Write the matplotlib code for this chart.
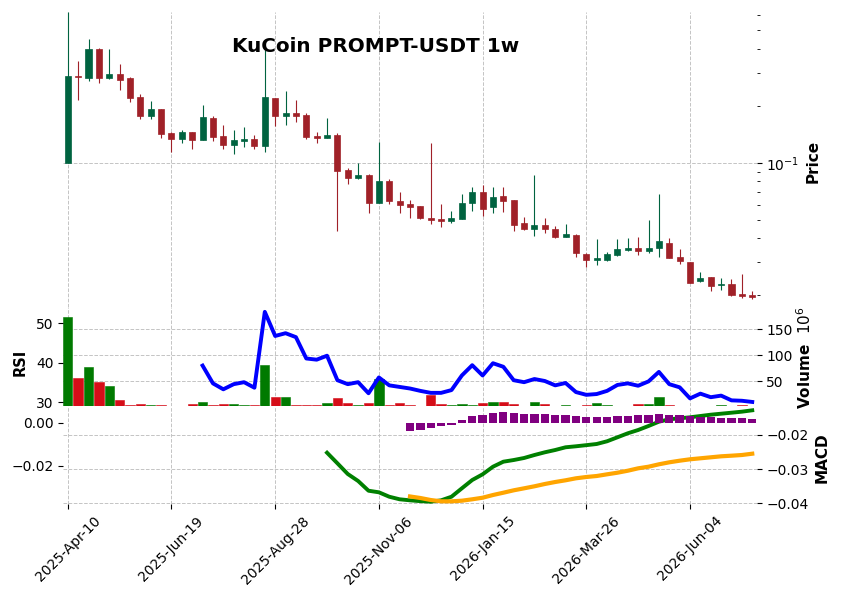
import numpy as np
import pandas as pd
import matplotlib
matplotlib.use("Agg")
import matplotlib.pyplot as plt

# weekly candles, KuCoin PROMPT-USDT
dates = pd.date_range("2025-04-10", periods=67, freq="7D")

opens = [0.1004, 0.2860, 0.2819, 0.4008, 0.2819, 0.2948, 0.2819, 0.2229, 0.1777, 0.1927,
         0.1440, 0.1343, 0.1452, 0.1322, 0.1734, 0.1388, 0.1244, 0.1311, 0.1343, 0.1233,
         0.2194, 0.1777, 0.1836, 0.1792, 0.1393, 0.1359, 0.1410, 0.0919, 0.0837, 0.0868,
         0.0618, 0.0804, 0.0630, 0.0606, 0.0594, 0.0512, 0.0506, 0.0492, 0.0506, 0.0611,
         0.0704, 0.0582, 0.0670, 0.0638, 0.0483, 0.0450, 0.0471, 0.0448, 0.0408, 0.0419,
         0.0331, 0.0309, 0.0309, 0.0328, 0.0349, 0.0357, 0.0341, 0.0354, 0.0378, 0.0319,
         0.0301, 0.0237, 0.0251, 0.0226, 0.0230, 0.0203, 0.0202]
highs = [0.6280, 0.3464, 0.4492, 0.4042, 0.3979, 0.3316, 0.2842, 0.2303, 0.2115, 0.1927,
         0.1452, 0.1488, 0.1463, 0.2016, 0.1770, 0.1581, 0.1488, 0.1543, 0.1400, 0.3945,
         0.2210, 0.2398, 0.2149, 0.1843, 0.1463, 0.1721, 0.1434, 0.0938, 0.0996, 0.0876,
         0.1286, 0.0821, 0.0701, 0.0636, 0.0595, 0.1270, 0.0606, 0.0558, 0.0686, 0.0745,
         0.0766, 0.0745, 0.0745, 0.0639, 0.0521, 0.0865, 0.0510, 0.0467, 0.0477, 0.0422,
         0.0334, 0.0398, 0.0338, 0.0398, 0.0401, 0.0406, 0.0500, 0.0686, 0.0401, 0.0351,
         0.0301, 0.0266, 0.0251, 0.0246, 0.0244, 0.0259, 0.0212]
lows = [0.1000, 0.2149, 0.2698, 0.2633, 0.2785, 0.2418, 0.2090, 0.1713, 0.1713, 0.1350,
        0.1147, 0.1279, 0.1181, 0.1320, 0.1311, 0.1181, 0.1111, 0.1214, 0.1181, 0.1143,
        0.1568, 0.1581, 0.1640, 0.1333, 0.1270, 0.1356, 0.0438, 0.0773, 0.0821, 0.0543,
        0.0614, 0.0606, 0.0543, 0.0510, 0.0508, 0.0475, 0.0461, 0.0484, 0.0504, 0.0556,
        0.0527, 0.0543, 0.0549, 0.0439, 0.0443, 0.0412, 0.0426, 0.0401, 0.0406, 0.0320,
        0.0284, 0.0289, 0.0303, 0.0322, 0.0341, 0.0327, 0.0334, 0.0318, 0.0315, 0.0292,
        0.0232, 0.0236, 0.0211, 0.0214, 0.0199, 0.0194, 0.0191]
closes = [0.2877, 0.2825, 0.3979, 0.2819, 0.2948, 0.2741, 0.2210, 0.1777, 0.1927, 0.1427,
          0.1343, 0.1452, 0.1322, 0.1749, 0.1376, 0.1244, 0.1322, 0.1343, 0.1233, 0.2229,
          0.1777, 0.1836, 0.1777, 0.1376, 0.1359, 0.1410, 0.0911, 0.0837, 0.0865, 0.0618,
          0.0804, 0.0630, 0.0603, 0.0582, 0.0512, 0.0500, 0.0496, 0.0512, 0.0616, 0.0704,
          0.0574, 0.0662, 0.0633, 0.0471, 0.0450, 0.0471, 0.0450, 0.0408, 0.0422, 0.0336,
          0.0309, 0.0316, 0.0331, 0.0352, 0.0357, 0.0341, 0.0357, 0.0388, 0.0316, 0.0302,
          0.0233, 0.0248, 0.0225, 0.0230, 0.0202, 0.0199, 0.0195]
# volume in millions
volume_m = [173.7, 56.3, 77.5, 48.7, 41.0, 14.0, 5.2, 6.4, 5.2, 5.2,
            3.0, 3.0, 6.4, 10.2, 5.2, 6.4, 6.4, 5.2, 5.2, 81.3,
            19.5, 19.5, 5.2, 5.2, 5.2, 7.7, 18.0, 7.7, 5.2, 7.7,
            54.0, 5.2, 7.7, 5.2, 3.0, 24.2, 6.4, 5.2, 6.0, 5.2,
            7.7, 10.2, 10.2, 6.4, 3.0, 10.2, 6.4, 3.0, 5.2, 3.0,
            5.2, 8.0, 5.2, 3.0, 3.0, 6.0, 6.0, 19.8, 5.2, 3.0,
            3.0, 3.0, 3.0, 5.2, 3.0, 5.2, 3.0]

rsi_start = 13
rsi = [39.3, 34.8, 33.3, 34.6, 35.1, 33.7, 52.9, 46.8, 47.5, 46.5,
       41.1, 40.8, 41.8, 35.6, 34.6, 35.1, 32.3, 36.3, 34.3, 33.9,
       33.5, 32.9, 32.4, 32.4, 33.1, 36.8, 39.4, 36.8, 39.9, 39.0,
       35.6, 35.1, 35.9, 35.4, 34.3, 34.9, 32.6, 31.9, 32.1, 32.9,
       34.4, 34.8, 34.2, 35.3, 37.7, 34.6, 33.8, 31.0, 32.2, 31.3,
       31.7, 30.5, 30.4, 30.1]

macd_start = 25
macd = [-0.02525, -0.02834, -0.03146, -0.03350, -0.03633, -0.03679, -0.03808, -0.03883, -0.03913, -0.03937,
        -0.03953, -0.03913, -0.03808, -0.03563, -0.03321, -0.03155, -0.02933, -0.02787, -0.02738, -0.02679,
        -0.02592, -0.02513, -0.02446, -0.02367, -0.02338, -0.02305, -0.02271, -0.02192, -0.02076, -0.01959,
        -0.01863, -0.01746, -0.01621, -0.01551, -0.01522, -0.01493, -0.01455, -0.01417, -0.01388, -0.01359,
        -0.01329, -0.01289]

signal_start = 33
signal = [-0.03800, -0.03845, -0.03904, -0.03942, -0.03942, -0.03924, -0.03883, -0.03837, -0.03758, -0.03691,
          -0.03621, -0.03563, -0.03504, -0.03437, -0.03379, -0.03329, -0.03271, -0.03233, -0.03204, -0.03155,
          -0.03108, -0.03050, -0.02980, -0.02933, -0.02863, -0.02805, -0.02758, -0.02717, -0.02688, -0.02659,
          -0.02630, -0.02612, -0.02592, -0.02554]
hist = [-0.00372, -0.00340, -0.00233, -0.00155, -0.00093, 0.00126, 0.00298, 0.00358, 0.00437, 0.00498,
        0.00451, 0.00405, 0.00405, 0.00405, 0.00358, 0.00358, 0.00312, 0.00265, 0.00265, 0.00265,
        0.00312, 0.00312, 0.00358, 0.00358, 0.00405, 0.00358, 0.00358, 0.00312, 0.00281, 0.00250,
        0.00234, 0.00234, 0.00234, 0.00172]

up_color, down_color = "#006340", "#a02128"
vol_up, vol_down = "#007a00", "#d50d18"
grid_kw = dict(color="#c4c4c4", linestyle="--", linewidth=0.7)

x = np.arange(len(dates))
o, h, l, c = map(np.array, (opens, highs, lows, closes))
up = c >= o

W, H = 841, 599
fig = plt.figure(figsize=(W / 100, H / 100), dpi=100)


def rect(top, bottom):
    return [63.3 / W, 1 - bottom / H, 693.4 / W, (bottom - top) / H]


ax_p = fig.add_axes(rect(11.7, 307))
ax_v = fig.add_axes(rect(307, 405.5), sharex=ax_p)
ax_m = fig.add_axes(rect(405.5, 504), sharex=ax_p)

# candles
cols = np.where(up, up_color, down_color)
ax_p.vlines(x, l, h, colors=cols, linewidth=0.8, zorder=2)
ax_p.bar(x, np.abs(c - o), bottom=np.minimum(o, c), width=0.58,
         color=cols, edgecolor=cols, linewidth=0.5, zorder=3)
ax_p.set_yscale("log")
ax_p.set_ylim(0.01737, 0.628)
ax_p.yaxis.tick_right()
ax_p.tick_params(bottom=False, labelbottom=False)

# volume + rsi
vcols = np.where(up, vol_up, vol_down)
ax_v.bar(x, volume_m, width=0.9, color=vcols, edgecolor=vcols, linewidth=0.4)
ax_v.set_ylim(3.5, 192.9)
ax_v.set_yticks([50, 100, 150])
ax_v.tick_params(bottom=False, labelbottom=False)
ax_r = ax_v.twinx()
ax_r.plot(x[rsi_start:], rsi, color="blue", linewidth=2.8)
ax_r.set_ylim(29.2, 54.13)
ax_r.set_yticks([30, 40, 50])
ax_v.yaxis.tick_right()
ax_r.yaxis.tick_left()

# macd
ax_m.plot(x[macd_start:], macd, color="green", linewidth=2.8)
ax_m.plot(x[signal_start:], signal, color="orange", linewidth=3.0)
ax_m.set_ylim(-0.0402, -0.01149)
ax_m.set_yticks([-0.04, -0.03, -0.02])
ax_hb = ax_m.twinx()
ax_hb.bar(x[signal_start:], hist, width=0.8, color="purple")
ax_hb.set_ylim(-0.0378, 0.0080)
ax_hb.set_yticks([-0.02, 0.0])
ax_m.yaxis.tick_right()
ax_hb.yaxis.tick_left()

ax_m.set_xlim(-0.43, 66.43)
ticks = list(range(0, 61, 10))
ax_m.set_xticks(ticks)
ax_m.set_xticklabels([dates[i].strftime("%Y-%b-%d") for i in ticks], rotation=45, ha="center")

for ax in (ax_p, ax_v, ax_m):
    ax.grid(True, **grid_kw)
    ax.set_axisbelow(True)
for ax in (ax_p, ax_v, ax_r, ax_m, ax_hb):
    for s in ax.spines.values():
        s.set_visible(False)

fig.text(375.5 / W, 1 - 47 / H, "KuCoin PROMPT-USDT 1w", ha="center", va="center",
         fontsize=14.4, fontweight="bold")
fig.text(813 / W, 1 - 161 / H, "Price", rotation=90, ha="center", va="center",
         fontsize=11, fontweight="bold")
fig.text(20 / W, 1 - 362 / H, "RSI", rotation=90, ha="center", va="center",
         fontsize=10.5, fontweight="bold")
fig.text(805 / W, 1 - 358 / H, "Volume  $10^{6}$", rotation=90, ha="center", va="center",
         fontsize=11, fontweight="bold")
fig.text(822 / W, 1 - 458 / H, "MACD", rotation=90, ha="center", va="center",
         fontsize=11, fontweight="bold")

fig.savefig("out.png", dpi=100)
